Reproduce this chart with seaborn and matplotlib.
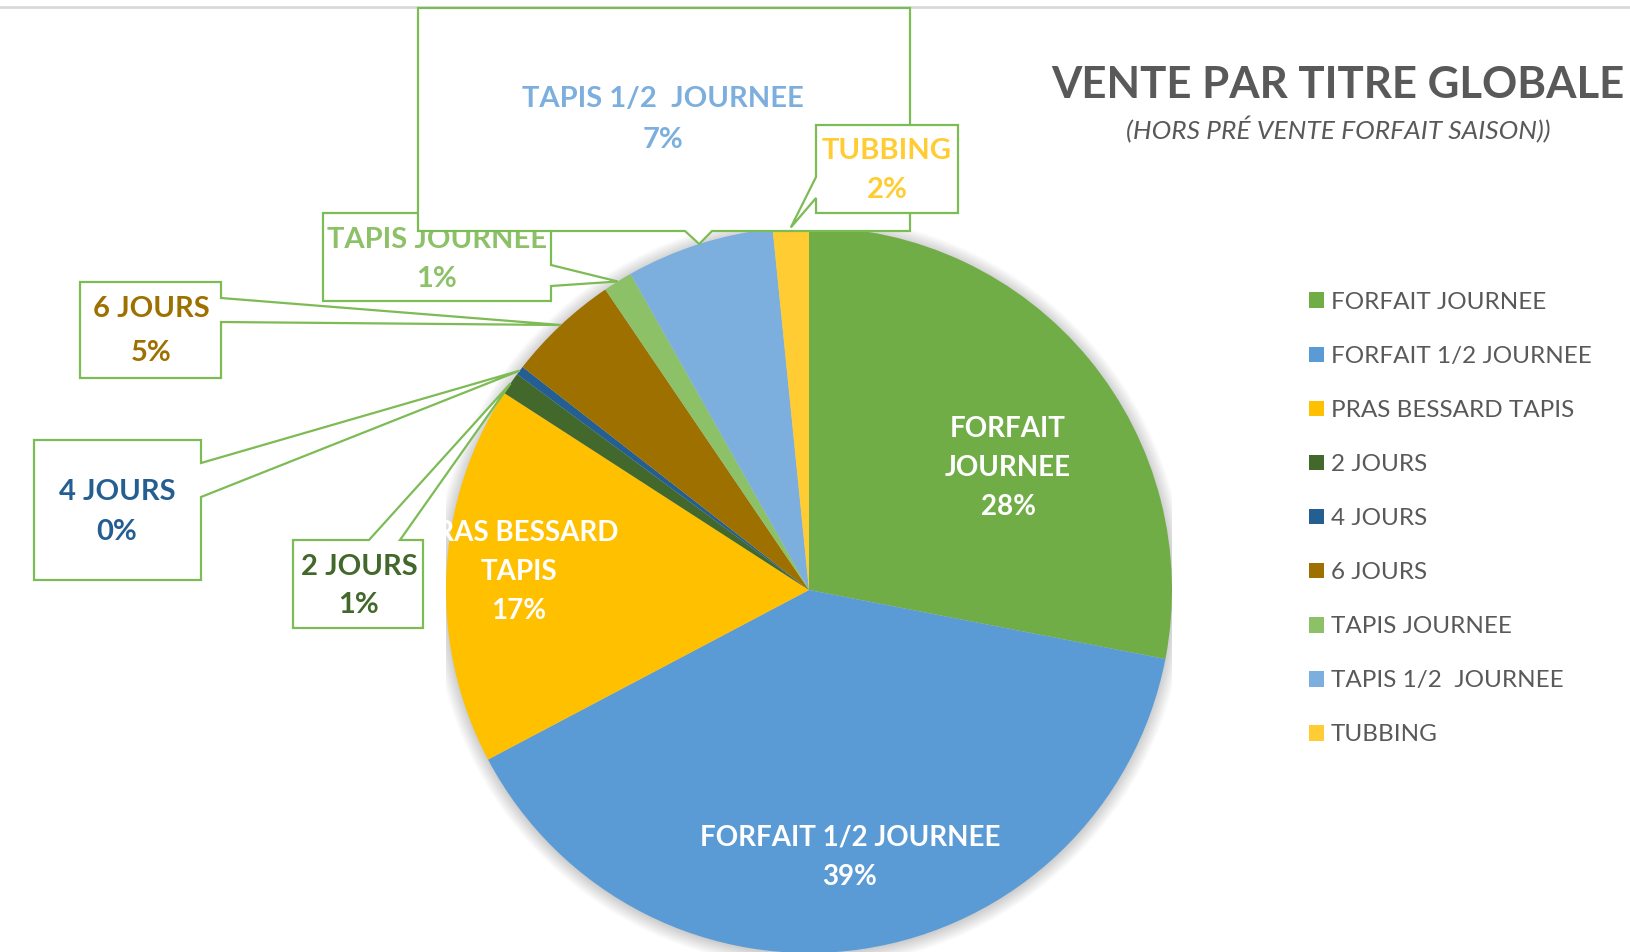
import matplotlib
matplotlib.use("Agg")
import matplotlib.pyplot as plt
from matplotlib.patches import Polygon, Circle
import numpy as np
import seaborn as sns

# data (share of sales, %)
categories = ["FORFAIT JOURNEE", "FORFAIT 1/2 JOURNEE", "PRAS BESSARD TAPIS",
              "2 JOURS", "4 JOURS", "6 JOURS", "TAPIS JOURNEE",
              "TAPIS 1/2  JOURNEE", "TUBBING"]
shares = [28.1, 39.3, 16.9, 1.0, 0.4, 5.0, 1.3, 6.6, 1.6]
colors = ["#70AD47", "#5B9BD5", "#FFC000", "#43682B", "#255E91",
          "#9E7000", "#8CC168", "#7CAFDD", "#FFCD33"]

sns.set_style("white")
plt.rcParams["font.family"] = ["Lato", "DejaVu Sans"]

W, H = 1630, 952
fig = plt.figure(figsize=(W / 100, H / 100), dpi=100)

# pie axes, sized in pixels
cx, cy, r = 809, 590, 363
pa = fig.add_axes([(cx - r) / W, (H - cy - r) / H, 2 * r / W, 2 * r / H])
palette = sns.color_palette(colors)

# soft shadow around the pie
for i in range(10):
    pa.add_patch(Circle((0, -0.004), 1.0 + 0.004 * i, color="k", alpha=0.018, zorder=0, lw=0))

wedges, _ = pa.pie(shares, colors=palette, startangle=90, counterclock=False,
                   wedgeprops=dict(linewidth=0))
for w in wedges:
    w.set_zorder(2)
pa.set_xlim(-1, 1)
pa.set_ylim(-1, 1)
pa.axis("off")

total = sum(shares)
pct = [f"{round(v / total * 100)}%" for v in shares]

# overlay axes in pixel coordinates (y down)
ov = fig.add_axes([0, 0, 1, 1], zorder=5)
ov.set_xlim(0, W)
ov.set_ylim(H, 0)
ov.axis("off")

fig.canvas.draw()


def tip_of(i):
    w = wedges[i]
    a = np.deg2rad((w.theta1 + w.theta2) / 2)
    p = pa.transData.transform((np.cos(a), np.sin(a)))
    return ov.transData.inverted().transform(p)


def callout(box, side, base, tip):
    x0, y0, x1, y1 = box
    a, b = base
    tl, tr, br, bl = (x0, y0), (x1, y0), (x1, y1), (x0, y1)
    if side == "top":
        pts = [tl, (a, y0), tip, (b, y0), tr, br, bl]
    elif side == "right":
        pts = [tl, tr, (x1, a), tip, (x1, b), br, bl]
    elif side == "bottom":
        pts = [tl, tr, br, (b, y1), tip, (a, y1), bl]
    else:
        pts = [tl, tr, br, bl, (x0, b), tip, (x0, a)]
    return pts


# callout layout: box, side of pointer, pointer base, text centre, z-order
callouts = {
    6: ((323, 213, 551, 301), "right", (265, 286), (437, 240, 279), 3),
    7: ((418, 8, 910, 231), "bottom", (685, 712), (663, 99, 140), 4),
    8: ((816, 125, 958, 213), "left", (177, 198), (887, 151, 190), 5),
    5: ((80, 282, 221, 378), "right", (298, 322), (151, 309, 353), 3),
    4: ((34, 440, 201, 580), "right", (463, 497), (117, 492, 532), 3),
    3: ((293, 540, 423, 628), "top", (369, 400), (359, 567, 605), 3),
}

edge = "#7DBB55"

# labels inside the big slices
inside = {
    0: ("FORFAIT\nJOURNEE", 1008, 468),
    1: ("FORFAIT 1/2 JOURNEE", 850, 857),
    2: ("PRAS BESSARD\nTAPIS", 519, 572),
}
for i, (txt, x, y) in inside.items():
    ov.text(x, y, f"{txt}\n{pct[i]}", ha="center", va="center", color="white",
            fontsize=20, fontweight="bold", linespacing=1.62, zorder=1)

for i, (box, side, base, tpos, z) in callouts.items():
    pts = callout(box, side, base, tip_of(i))
    ov.add_patch(Polygon(pts, closed=True, facecolor="white", edgecolor=edge,
                         lw=1.6, zorder=z))
    tc = colors[i]
    ov.text(tpos[0], tpos[1], categories[i], ha="center", va="center", color=tc,
            fontsize=21, fontweight="bold", zorder=z + 0.1)
    ov.text(tpos[0], tpos[2], pct[i], ha="center", va="center", color=tc,
            fontsize=21, fontweight="bold", zorder=z + 0.1)

# title
ov.text(1338, 85, "VENTE PAR TITRE GLOBALE", ha="center", va="center",
        color="#595959", fontsize=31.5, fontweight="bold")
ov.text(1338, 130, "(HORS PRÉ VENTE FORFAIT SAISON))", ha="center", va="center",
        color="#595959", fontsize=19, fontstyle="italic")

# top border line
ov.plot([0, W], [7, 7], color="#D9D9D9", lw=2, zorder=0)

leg = fig.legend(wedges, categories, loc="upper left",
                 bbox_to_anchor=(1287 / W, 1 - 270 / H), frameon=False,
                 fontsize=17.5, handlelength=0.62, handleheight=0.62,
                 handletextpad=0.28, labelspacing=1.36, labelcolor="#595959")

fig.savefig("out.png", dpi=100, facecolor="white")
